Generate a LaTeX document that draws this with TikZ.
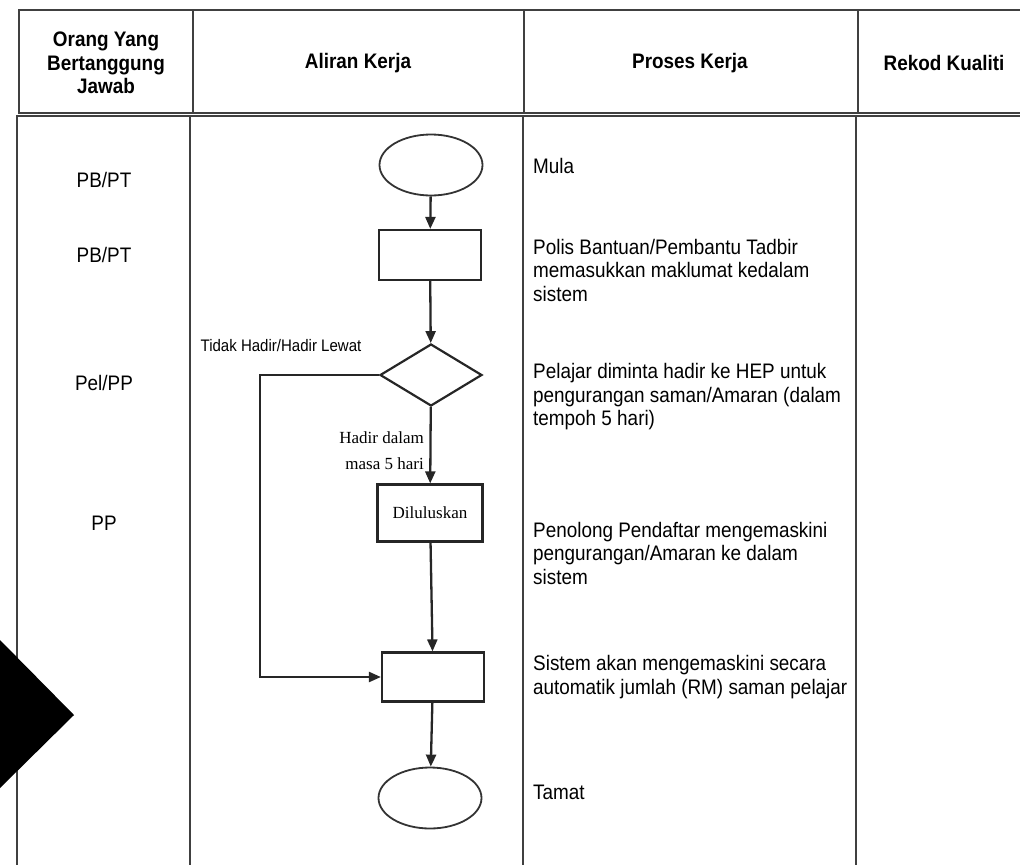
\documentclass[tikz,border=0pt]{standalone}
\usepackage{fontspec}
\setmainfont{Liberation Sans}[FakeStretch=0.9]
\newfontfamily\labelserif{Liberation Serif}
\usetikzlibrary{shapes.geometric,arrows.meta}

\begin{document}
\begin{tikzpicture}[
      x=1pt,y=-1pt,
      rule/.style={draw=black!75, line width=1.8pt},
      flow/.style={line width=2.3pt, draw=black!85, -{Triangle[length=12pt,width=10pt]}},
      terminal/.style={ellipse, draw=black!80, line width=1.8pt, minimum width=103pt, minimum height=61pt, inner sep=0pt},
      process/.style={rectangle, draw=black!85, line width=2.2pt, minimum width=102pt, minimum height=50pt, inner sep=0pt, font=\labelserif\fontsize{17}{20}\selectfont},
      decision/.style={diamond, draw=black!85, line width=2.2pt, minimum width=102pt, minimum height=62pt, inner sep=0pt},
      head/.style={font=\bfseries\fontsize{21}{23.5}\selectfont, align=center},
      who/.style={font=\fontsize{21}{23.5}\selectfont},
      proctext/.style={font=\fontsize{21}{23.5}\selectfont, align=left, anchor=west, inner sep=0pt},
      edgetext/.style={font=\labelserif\fontsize{17}{26}\selectfont, align=right, inner sep=0pt}
      ]
      \useasboundingbox (0,0) rectangle (1020,865);

      % table frame
      \draw[rule] (1020,10) -- (19,10) -- (19,113) -- (1020,113);
      \draw[rule] (1020,116) -- (17,116) -- (17,865);
      \foreach \xh/\xb in {193/190, 524/523, 858/856} {
        \draw[rule] (\xh,10) -- (\xh,113);
        \draw[rule] (\xb,116) -- (\xb,865);
      }
      \fill (0,640) -- (74,715) -- (0,788) -- cycle;

      % header
      \node[head] (hwho) at (106,63) {Orang Yang\\Bertanggung\\Jawab};
      \node[head] (hflow) at (358,63) {Aliran Kerja};
      \node[head] (hproc) at (690,63) {Proses Kerja};
      \node[head] (hrec) at (944,63) {Rekod Kualiti};

      % who
      \node[who] (w1) at (104,180) {PB/PT};
      \node[who] (w2) at (104,255) {PB/PT};
      \node[who] (w3) at (104,383) {Pel/PP};
      \node[who] (w4) at (104,523) {PP};

      % flow
      \node[terminal] (mula) at (431,165) {};
      \node[process] (masuk) at (430,255) {};
      \node[decision] (hadir) at (431,375) {};
      \node[process, minimum width=105pt, minimum height=57pt] (lulus) at (430,513) {Diluluskan};
      \node[process, minimum height=49pt] (kemaskini) at (433,677) {};
      \node[terminal] (tamat) at (430,798) {};
      \coordinate (lewat) at (260,375);

      \draw[flow] (mula) -- (masuk);
      \draw[flow] (masuk) -- (hadir);
      \draw[flow] (hadir) -- (lulus);
      \draw[flow] (lulus) -- (kemaskini);
      \draw[flow] (kemaskini) -- (tamat);
      \draw[flow] (hadir.west) -- (lewat) |- (kemaskini.west);

      \node[font=\fontsize{16.7}{18}\selectfont, inner sep=0pt] (tlewat) at (281,346) {Tidak Hadir/Hadir Lewat};
      \node[edgetext, anchor=east] (tmasa) at (424,451) {Hadir dalam\\masa 5 hari};

      % process text
      \node[proctext] (p1) at (533,166) {Mula};
      \node[proctext] (p2) at (533,270) {Polis Bantuan/Pembantu Tadbir\\memasukkan maklumat kedalam\\sistem};
      \node[proctext] (p3) at (533,397) {Pelajar diminta hadir ke HEP untuk\\pengurangan saman/Amaran (dalam\\tempoh 5 hari)};
      \node[proctext] (p4) at (533,553) {Penolong Pendaftar mengemaskini\\pengurangan/Amaran ke dalam\\sistem};
      \node[proctext] (p5) at (533,677) {Sistem akan mengemaskini secara\\automatik jumlah (RM) saman pelajar};
      \node[proctext] (p6) at (533,792) {Tamat};
    \end{tikzpicture}
\end{document}
